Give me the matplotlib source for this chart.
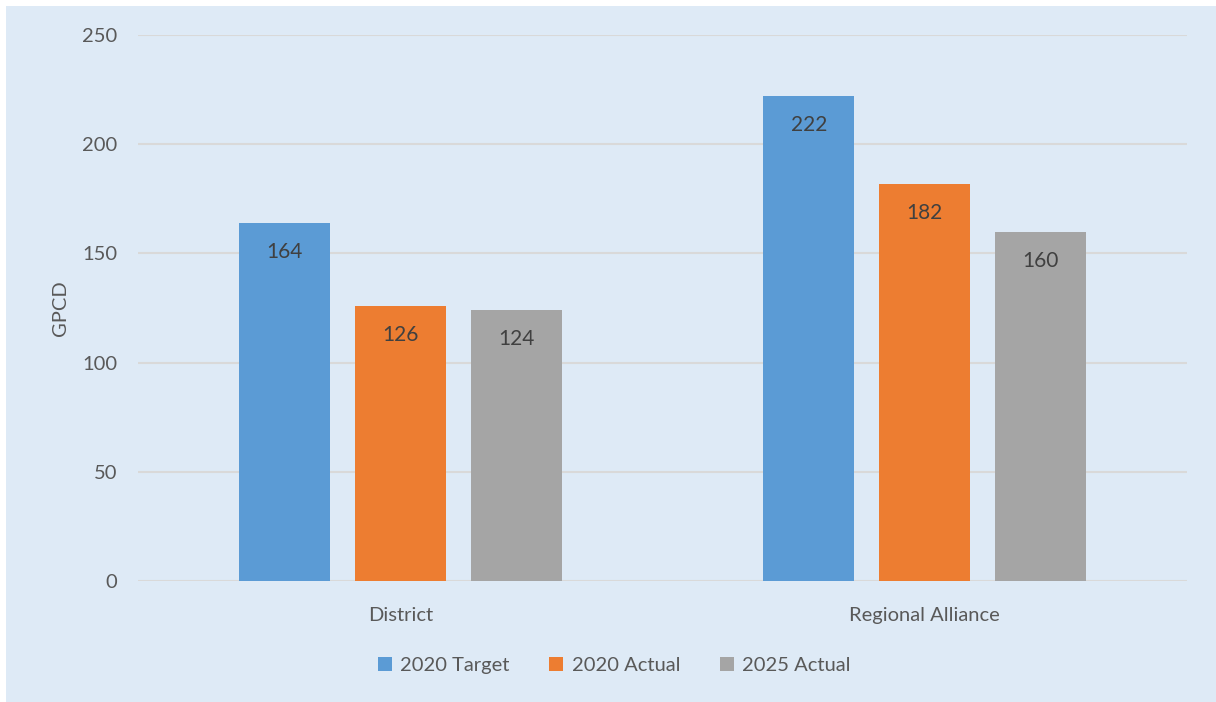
import matplotlib
matplotlib.use("Agg")
import matplotlib.pyplot as plt
from matplotlib.patches import Rectangle
import numpy as np

categories = ["District", "Regional Alliance"]
series_names = ["2020 Target", "2020 Actual", "2025 Actual"]
target_2020 = [164, 222]
actual_2020 = [126, 182]
actual_2025 = [124, 160]
series_colors = ["#5B9BD5", "#ED7D31", "#A5A5A5"]
y_ticks = [0, 50, 100, 150, 200, 250]

plt.rcParams["font.family"] = ["Lato", "DejaVu Sans"]

W, H, DPI = 1216, 702, 100
fig = plt.figure(figsize=(W / DPI, H / DPI), dpi=DPI, facecolor="white")
bg = "#DEEAF6"
fig.patches.append(Rectangle((6 / W, 0), 1 - 6 / W, 1 - 6 / H,
                             transform=fig.transFigure, facecolor=bg,
                             edgecolor="none", zorder=-10))

ax = fig.add_axes([138 / W, 1 - 581 / H, (1187 - 138) / W, (581 - 35) / H])
ax.set_zorder(5)
ax.set_facecolor("none")

x = np.arange(len(categories))
width = 0.173
step = 0.221
all_series = [target_2020, actual_2020, actual_2025]
for i, (vals, name, col) in enumerate(zip(all_series, series_names, series_colors)):
    pos = x + (i - 1) * step
    bars = ax.bar(pos, vals, width, color=col, label=name, zorder=3)
    for b, v in zip(bars, vals):
        ax.annotate(f"{v}", (b.get_x() + b.get_width() / 2, v),
                    xytext=(0, -29), textcoords="offset pixels",
                    ha="center", va="center", fontsize=15, color="#404040", zorder=4)

ax.set_xlim(-0.5, 1.5)
ax.set_ylim(0, 250)
ax.set_yticks(y_ticks)
ax.set_xticks(x)
ax.set_xticklabels(categories)
ax.tick_params(axis="both", length=0, labelsize=14.5, labelcolor="#595959")
ax.tick_params(axis="y", pad=15)
ax.tick_params(axis="x", pad=19)
ax.grid(axis="y", color="#D9D9D9", linewidth=1.5, zorder=1)
for s in ax.spines.values():
    s.set_visible(False)
ax.set_ylabel("GPCD", fontsize=14.5, color="#595959", labelpad=9)

ax.legend(loc="center", bbox_to_anchor=(0.454, -0.155), ncol=3, frameon=False,
          fontsize=14.5, labelcolor="#595959", handlelength=0.7, handleheight=0.7,
          handletextpad=0.4, columnspacing=2.0)

fig.savefig("out.png", dpi=DPI, facecolor="white")
